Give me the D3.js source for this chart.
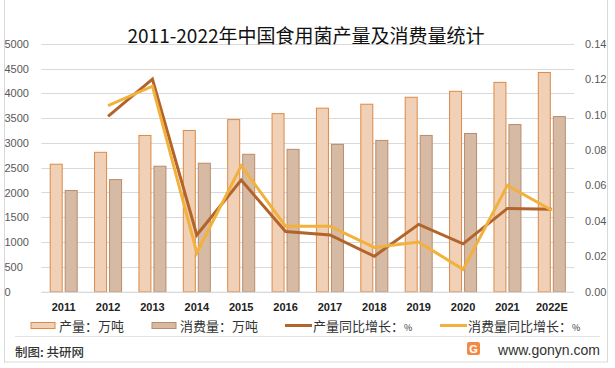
<!DOCTYPE html>
<html>
<head>
<meta charset="utf-8">
<script src="https://cdn.jsdelivr.net/npm/d3@7"></script>
<style>
  body { margin: 0; background: #fff; }
  svg { display: block; font-family: "Noto Sans CJK SC", "Noto Sans", sans-serif; }
</style>
</head>
<body>
<div id="chart"></div>
<script>
// data
const years = ["2011", "2012", "2013", "2014", "2015", "2016", "2017", "2018", "2019", "2020", "2021", "2022E"];
const output = [2570, 2810, 3150, 3250, 3470, 3590, 3700, 3780, 3920, 4040, 4220, 4420];
const consumption = [2040, 2260, 2530, 2590, 2770, 2870, 2970, 3050, 3150, 3190, 3370, 3530];
const outputGrowth = [null, 0.099, 0.120, 0.032, 0.063, 0.034, 0.032, 0.020, 0.038, 0.027, 0.047, 0.0465];
const consumptionGrowth = [null, 0.105, 0.116, 0.022, 0.071, 0.037, 0.037, 0.025, 0.028, 0.0126, 0.060, 0.046];
const leftTicks = [0, 500, 1000, 1500, 2000, 2500, 3000, 3500, 4000, 4500, 5000];
const rightTicks = [0, 0.02, 0.04, 0.06, 0.08, 0.10, 0.12, 0.14];

const width = 615, height = 368;
const margin = { top: 43.7, left: 41.5, right: 41, bottom: 76.3 };

const colors = {
  outFill: "#f0d1b7", outStroke: "#dd8a45",
  conFill: "#d6baa4", conStroke: "#b98c6c",
  outLine: "#b2642b", conLine: "#f2b13c",
};

const svg = d3.select("#chart").append("svg")
  .attr("width", width)
  .attr("height", height);

// outer frame
svg.append("rect")
  .attr("x", 4.5).attr("y", -1)
  .attr("width", 603).attr("height", 363)
  .attr("fill", "none")
  .attr("stroke", "#d9d9d9");

const x = d3.scaleBand()
  .domain(years)
  .range([margin.left, width - margin.right]);

const y = d3.scaleLinear().domain([0, 5000]).range([height - margin.bottom, margin.top]);
const y2 = d3.scaleLinear().domain([0, 0.14]).range([height - margin.bottom, margin.top]);

// gridlines
svg.append("g")
  .selectAll("line")
  .data(leftTicks)
  .join("line")
  .attr("x1", margin.left).attr("x2", width - margin.right)
  .attr("y1", d => Math.round(y(d)) + 0.5).attr("y2", d => Math.round(y(d)) + 0.5)
  .attr("stroke", "#d9d9d9");

// left axis
const yAxis = svg.append("g")
  .attr("transform", `translate(${margin.left},0)`)
  .call(d3.axisLeft(y).tickValues(leftTicks).tickFormat(d3.format("d")).tickSize(0).tickPadding(8));
yAxis.select(".domain").remove();
yAxis.selectAll("text")
  .attr("x", -37).attr("text-anchor", "start")
  .style("font-size", "11px").style("fill", "#595959")
  .style("font-family", "'Liberation Sans', sans-serif");

// right axis
const y2Axis = svg.append("g")
  .attr("transform", `translate(${width - margin.right},0)`)
  .call(d3.axisRight(y2).tickValues(rightTicks).tickFormat(d3.format(".2f")).tickSize(0).tickPadding(11));
y2Axis.select(".domain").remove();
y2Axis.selectAll("text")
  .style("font-size", "11px").style("fill", "#595959")
  .style("font-family", "'Liberation Sans', sans-serif");

// bars
const barW = 12, gap = 3;
svg.append("g")
  .selectAll("rect")
  .data(output)
  .join("rect")
  .attr("x", (d, i) => x(years[i]) + x.bandwidth() / 2 - gap / 2 - barW)
  .attr("y", d => y(d))
  .attr("width", barW)
  .attr("height", d => y(0) - y(d))
  .attr("fill", colors.outFill)
  .attr("stroke", colors.outStroke)
  .attr("stroke-width", 1);

svg.append("g")
  .selectAll("rect")
  .data(consumption)
  .join("rect")
  .attr("x", (d, i) => x(years[i]) + x.bandwidth() / 2 + gap / 2)
  .attr("y", d => y(d))
  .attr("width", barW)
  .attr("height", d => y(0) - y(d))
  .attr("fill", colors.conFill)
  .attr("stroke", colors.conStroke)
  .attr("stroke-width", 1);

// axis baseline
svg.append("line")
  .attr("x1", margin.left).attr("x2", width - margin.right)
  .attr("y1", y(0) + 0.5).attr("y2", y(0) + 0.5)
  .attr("stroke", "#d9d9d9");

// growth lines
const line = d3.line()
  .defined(d => d.v != null)
  .x(d => x(d.year) + x.bandwidth() / 2)
  .y(d => y2(d.v));

svg.append("path")
  .attr("d", line(years.map((year, i) => ({ year, v: outputGrowth[i] }))))
  .attr("fill", "none")
  .attr("stroke", colors.outLine)
  .attr("stroke-width", 3);

svg.append("path")
  .attr("d", line(years.map((year, i) => ({ year, v: consumptionGrowth[i] }))))
  .attr("fill", "none")
  .attr("stroke", colors.conLine)
  .attr("stroke-width", 3);

// x labels
const xAxis = svg.append("g")
  .attr("transform", `translate(0,${y(0)})`)
  .call(d3.axisBottom(x).tickSize(0).tickPadding(12));
xAxis.select(".domain").remove();
xAxis.selectAll("text")
  .style("font-size", "11px").style("font-weight", "bold").style("fill", "#222")
  .style("font-family", "'Liberation Sans', sans-serif");

// title
svg.append("text")
  .attr("x", 306).attr("y", 43)
  .attr("text-anchor", "middle")
  .style("font-size", "19px")
  .style("fill", "#111")
  .text("2011-2022年中国食用菌产量及消费量统计");

// legend
const legendItems = [
  { label: "产量：万吨", type: "rect", fill: colors.outFill, stroke: colors.outStroke, x: 31 },
  { label: "消费量：万吨", type: "rect", fill: colors.conFill, stroke: colors.conStroke, x: 152 },
  { label: "产量同比增长：%", type: "line", stroke: colors.outLine, x: 285 },
  { label: "消费量同比增长：%", type: "line", stroke: colors.conLine, x: 440 },
];
const lg = svg.append("g").attr("transform", "translate(0,325.5)");
legendItems.forEach(it => {
  if (it.type === "rect") {
    lg.append("rect").attr("x", it.x).attr("y", -3).attr("width", 24).attr("height", 6)
      .attr("fill", it.fill).attr("stroke", it.stroke);
  } else {
    lg.append("line").attr("x1", it.x).attr("x2", it.x + 27).attr("y1", 0).attr("y2", 0)
      .attr("stroke", it.stroke).attr("stroke-width", 3);
  }
  const t = lg.append("text")
    .attr("x", it.x + 28)
    .attr("y", 5)
    .style("font-size", "13px").style("fill", "#333");
  const parts = it.label.split("：");
  t.append("tspan").text(parts[0] + "：");
  t.append("tspan").style("font-size", parts[1] === "%" ? "9px" : "13px").text(parts[1]);
});

// footer
svg.append("line")
  .attr("x1", 15).attr("x2", 600)
  .attr("y1", 336.5).attr("y2", 336.5)
  .attr("stroke", "#e3e3e3");

svg.append("text")
  .attr("x", 15).attr("y", 357)
  .style("font-size", "12.5px").style("font-weight", "500").style("fill", "#333")
  .text("制图: 共研网");

const logo = svg.append("g").attr("transform", "translate(467,342)");
logo.append("rect").attr("width", 13).attr("height", 13).attr("rx", 2).attr("fill", "#f28a46");
logo.append("text").attr("x", 6.5).attr("y", 11).attr("text-anchor", "middle")
  .style("font-size", "11px").style("font-weight", "bold").style("fill", "#fff")
  .style("font-family", "'Liberation Sans', sans-serif").text("G");

svg.append("text")
  .attr("x", 600).attr("y", 355)
  .attr("text-anchor", "end")
  .style("font-size", "14px").style("fill", "#333")
  .style("font-family", "'Liberation Sans', sans-serif")
  .text("www.gonyn.com");
</script>
</body>
</html>
